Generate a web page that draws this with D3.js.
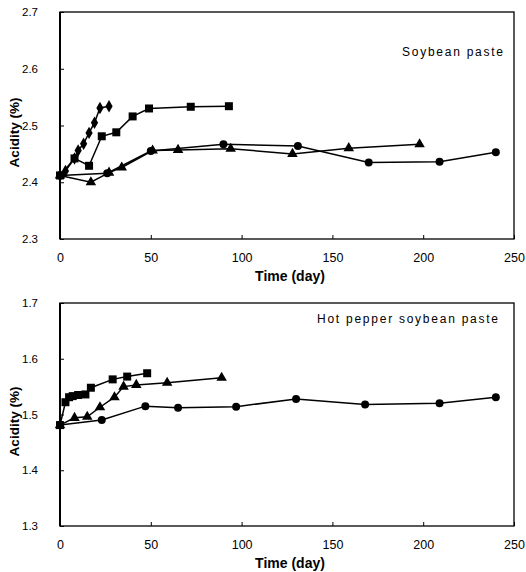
<!DOCTYPE html>
<html><head><meta charset="utf-8">
<script src="https://cdn.jsdelivr.net/npm/d3@7"></script>
<style>body{margin:0;background:#fff}svg{display:block}text{font-family:"Liberation Sans",Arial,sans-serif}</style>
</head><body><svg id="c" width="526" height="572"></svg>
<script>
// ---- data ----
const xTicks = [0, 50, 100, 150, 200, 250];
const topYTicks = [2.3, 2.4, 2.5, 2.6, 2.7];
const botYTicks = [1.3, 1.4, 1.5, 1.6, 1.7];
const topTitle = "Soybean paste";
const botTitle = "Hot pepper soybean paste";

const topDiamondT = [0, 3, 8, 10, 13, 16, 19, 22, 27];
const topDiamondV = [2.412, 2.420, 2.442, 2.456, 2.468, 2.487, 2.505, 2.531, 2.534];
const topSquareT = [0, 8, 16, 23, 31, 40, 49, 72, 93];
const topSquareV = [2.412, 2.442, 2.429, 2.481, 2.488, 2.516, 2.530, 2.533, 2.534];
const topTriangleT = [0, 17, 27, 34, 51, 65, 94, 128, 159, 198];
const topTriangleV = [2.412, 2.400, 2.417, 2.426, 2.456, 2.457, 2.459, 2.450, 2.460, 2.467];
const topCircleT = [0, 26, 50, 90, 131, 170, 209, 240];
const topCircleV = [2.412, 2.416, 2.455, 2.467, 2.464, 2.435, 2.436, 2.453];

const botSquareT = [0, 3, 5, 7, 10, 14, 17, 29, 37, 48];
const botSquareV = [1.481, 1.522, 1.531, 1.533, 1.535, 1.536, 1.548, 1.563, 1.568, 1.574];
const botTriangleT = [0, 8, 15, 22, 30, 35, 42, 59, 89];
const botTriangleV = [1.481, 1.494, 1.496, 1.513, 1.531, 1.550, 1.553, 1.557, 1.566];
const botCircleT = [0, 23, 47, 65, 97, 130, 168, 209, 240];
const botCircleV = [1.481, 1.490, 1.515, 1.512, 1.514, 1.528, 1.518, 1.520, 1.531];

const svg = d3.select("#c");

function panel(cfg) {
  const x = d3.scaleLinear().domain([0, 250]).range([60, 514]);
  const y = d3.scaleLinear().domain(cfg.yDomain).range([cfg.bottom, cfg.top]);
  const g = svg.append("g");
  // frame
  g.append("rect").attr("x", 60).attr("y", cfg.top).attr("width", 454).attr("height", cfg.bottom - cfg.top)
    .attr("fill", "none").attr("stroke", "#000").attr("stroke-width", 1.3);
  g.append("line").attr("x1", 60).attr("x2", 60).attr("y1", cfg.top).attr("y2", cfg.bottom)
    .attr("stroke", "#000").attr("stroke-width", 2);
  // axes
  const xa = g.append("g").attr("transform", `translate(0,${cfg.bottom})`)
    .call(d3.axisBottom(x).tickValues(xTicks).tickSize(-4).tickPadding(14).tickFormat(d3.format("d")));
  xa.select(".domain").remove();
  xa.selectAll("text").attr("font-size", 12.5).attr("fill", "#000");
  const ya = g.append("g").attr("transform", "translate(60,0)")
    .call(d3.axisLeft(y).tickValues(cfg.yTicks).tickSize(-4).tickPadding(22).tickFormat(d3.format(".1f")));
  ya.select(".domain").remove();
  ya.selectAll("text").attr("font-size", 11.5).attr("fill", "#000");
  // labels
  g.append("text").attr("x", 290).attr("y", cfg.bottom + 42).attr("text-anchor", "middle")
    .attr("font-size", 14).attr("font-weight", "bold").text("Time (day)");
  g.append("text").attr("transform", `translate(19,${(cfg.top + cfg.bottom) / 2 + 7}) rotate(-90)`)
    .attr("text-anchor", "middle").attr("font-size", 13.5).attr("font-weight", "bold").text("Acidity (%)");
  g.append("text").attr("x", cfg.titleX).attr("y", cfg.top + cfg.titleDy).attr("text-anchor", "end")
    .attr("font-size", 12).attr("textLength", cfg.titleLen).attr("lengthAdjust", "spacing").text(cfg.title);
  // series
  const line = d3.line().x(d => x(d[0])).y(d => y(d[1]));
  cfg.series.forEach(s => {
    const pts = s.t.map((t, i) => [t, s.v[i]]);
    g.append("path").attr("d", line(pts)).attr("fill", "none").attr("stroke", "#000").attr("stroke-width", 1.5);
    const sym = d3.symbol().type(s.type).size(s.size);
    g.selectAll(null).data(pts).enter().append("path")
      .attr("d", sym).attr("transform", d => `translate(${x(d[0])},${y(d[1])})`).attr("fill", "#000");
  });
}

panel({
  top: 12, bottom: 239, yDomain: [2.3, 2.7], yTicks: topYTicks, title: topTitle, titleX: 503, titleDy: 44, titleLen: 101,
  series: [
    { t: topCircleT, v: topCircleV, type: d3.symbolCircle, size: 50 },
    { t: topTriangleT, v: topTriangleV, type: d3.symbolTriangle, size: 48 },
    { t: topSquareT, v: topSquareV, type: d3.symbolSquare, size: 64 },
    { t: topDiamondT, v: topDiamondV, type: d3.symbolDiamond, size: 45 }
  ]
});
panel({
  top: 303, bottom: 526, yDomain: [1.3, 1.7], yTicks: botYTicks, title: botTitle, titleX: 498, titleDy: 20, titleLen: 181,
  series: [
    { t: botCircleT, v: botCircleV, type: d3.symbolCircle, size: 50 },
    { t: botTriangleT, v: botTriangleV, type: d3.symbolTriangle, size: 48 },
    { t: botSquareT, v: botSquareV, type: d3.symbolSquare, size: 64 }
  ]
});
</script></body></html>
